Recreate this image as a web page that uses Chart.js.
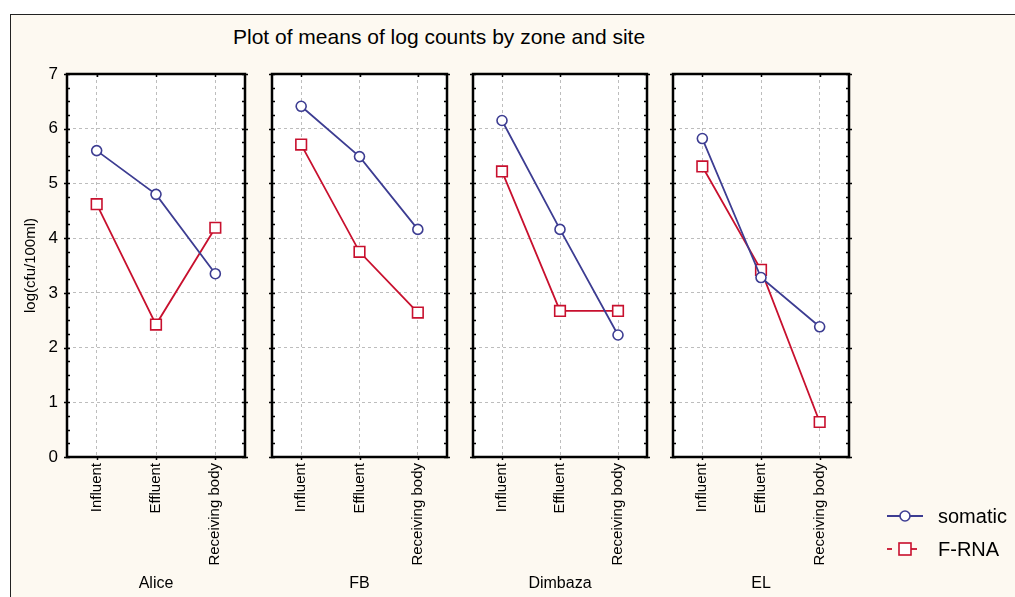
<!DOCTYPE html>
<html lang="en">
<head>
<meta charset="UTF-8">
<title>Plot of means of log counts by zone and site</title>
<script src="https://cdn.jsdelivr.net/npm/chart.js"></script>
<style>
    body {
        margin: 0;
        width: 1015px;
        height: 597px;
        background: #ffffff;
        position: relative;
        overflow: hidden;
        font-family: Arial, 'Liberation Sans', sans-serif;
        color: #000;
    }
    .frame {
        position: absolute;
        left: 10px;
        top: 14px;
        width: 1020px;
        height: 600px;
        border: 1px solid #222;
        background: #fdf9f1;
    }
    .panel {
        position: absolute;
        left: 0;
        top: 0;
        width: 1015px;
        height: 597px;
        pointer-events: none;
    }
    #title {
        position: absolute;
        left: 233px;
        top: 25px;
        font-size: 21px;
        line-height: 23px;
        white-space: nowrap;
    }
    .leg {
        position: absolute;
        left: 886px;
        height: 22px;
        display: flex;
        align-items: center;
        font-size: 20px;
    }
    .leg svg { margin-right: 14px; }
</style>
</head>
<body>
<div class="frame"></div>
<div id="title">Plot of means of log counts by zone and site</div>
<div class="panel"><canvas id="c0"></canvas></div>
<div class="panel"><canvas id="c1"></canvas></div>
<div class="panel"><canvas id="c2"></canvas></div>
<div class="panel"><canvas id="c3"></canvas></div>
<div id="legend"></div>

<script>
    const zones = ['Influent', 'Effluent', 'Receiving body'];
    const sites = ['Alice', 'FB', 'Dimbaza', 'EL'];
    const yTicks = [0, 1, 2, 3, 4, 5, 6, 7];

    // one row per site, values per zone
    const somatic = [
        [5.60, 4.80, 3.35],
        [6.41, 5.49, 4.16],
        [6.15, 4.16, 2.23],
        [5.82, 3.28, 2.38]
    ];
    const frna = [
        [4.62, 2.42, 4.19],
        [5.71, 3.75, 2.64],
        [5.22, 2.67, 2.67],
        [5.31, 3.42, 0.64]
    ];

    const BLUE = '#3d3d92';
    const RED = '#c8102e';
    const GRID = '#bdbdbd';

    // panel edges on the page
    const panelLeft = [67, 272, 473, 673];
    const panelRight = [245, 447, 647, 849];
    const Y_W = 60;

    const framePlugin = {
        id: 'frame',
        beforeDraw(chart) {
            const a = chart.chartArea, c = chart.ctx;
            c.save();
            c.fillStyle = '#ffffff';
            c.fillRect(a.left, a.top, a.right - a.left, a.bottom - a.top);
            c.restore();
        },
        afterDraw(chart) {
            const a = chart.chartArea, c = chart.ctx;
            const y = chart.scales.y, x = chart.scales.x;
            c.save();
            c.strokeStyle = '#000';
            c.lineWidth = 1.5;
            c.beginPath();
            for (let v = 0; v <= 7; v += 0.25) {
                const py = Math.round(y.getPixelForValue(v)) + 0.5;
                const out = Number.isInteger(v) ? 3 : 0;
                c.moveTo(a.left - out, py); c.lineTo(a.left + 3, py);
                c.moveTo(a.right - 3, py); c.lineTo(a.right + out, py);
            }
            zones.forEach((z, k) => {
                const px = Math.round(x.getPixelForValue(k)) + 0.5;
                c.moveTo(px, a.top); c.lineTo(px, a.top + 3);
                c.moveTo(px, a.bottom); c.lineTo(px, a.bottom + 3);
            });
            c.stroke();
            c.lineWidth = 2.5;
            c.strokeRect(a.left, a.top, a.right - a.left, a.bottom - a.top);
            c.restore();
        }
    };

    sites.forEach((site, i) => {
        const first = i === 0;
        new Chart(document.getElementById('c' + i), {
            type: 'line',
            data: {
                labels: zones,
                datasets: [
                    {
                        label: 'somatic',
                        data: somatic[i],
                        borderColor: BLUE,
                        backgroundColor: '#ffffff',
                        borderWidth: 1.8,
                        pointStyle: 'circle',
                        pointRadius: 5,
                        pointBorderWidth: 1.6,
                        pointBackgroundColor: '#ffffff',
                        tension: 0
                    },
                    {
                        label: 'F-RNA',
                        data: frna[i],
                        borderColor: RED,
                        backgroundColor: '#ffffff',
                        borderWidth: 1.8,
                        pointStyle: 'rect',
                        pointRadius: 7.5,
                        pointBorderWidth: 1.6,
                        pointBackgroundColor: '#ffffff',
                        tension: 0
                    }
                ]
            },
            options: {
                responsive: true,
                maintainAspectRatio: false,
                animation: false,
                layout: {
                    padding: {
                        left: first ? panelLeft[0] - Y_W : panelLeft[i],
                        right: 1015 - panelRight[i],
                        top: 74,
                        bottom: 0
                    }
                },
                plugins: {
                    legend: { display: false },
                    tooltip: { enabled: false }
                },
                scales: {
                    x: {
                        type: 'category',
                        offset: true,
                        afterFit: s => { s.height = 140; },
                        grid: { offset: false, color: GRID, lineWidth: 1, drawTicks: false },
                        border: { display: false, dash: [3, 3] },
                        ticks: {
                            color: '#000',
                            font: { family: 'Arial', size: 15 },
                            maxRotation: 90,
                            minRotation: 90,
                            padding: 6
                        },
                        title: {
                            display: true,
                            text: site,
                            color: '#000',
                            font: { family: 'Arial', size: 16 },
                            padding: { top: 0, bottom: 4 }
                        }
                    },
                    y: {
                        min: 0,
                        max: 7,
                        afterFit: s => { s.width = first ? Y_W : 0; },
                        afterBuildTicks: s => { s.ticks = yTicks.map(v => ({ value: v })); },
                        grid: { color: GRID, lineWidth: 1, drawTicks: false },
                        border: { display: false, dash: [3, 3] },
                        ticks: {
                            display: first,
                            color: '#000',
                            font: { family: 'Arial', size: 17 },
                            padding: 9
                        },
                        title: {
                            display: first,
                            text: 'log(cfu/100ml)',
                            color: '#000',
                            font: { family: 'Arial', size: 15 },
                            padding: { top: 15, bottom: 0 }
                        }
                    }
                }
            },
            plugins: [framePlugin]
        });
    });

    // legend
    const legend = document.getElementById('legend');
    const legItems = [
        { name: 'somatic', color: BLUE, top: 505, marker: '<circle cx="19" cy="11" r="5" fill="#fff" stroke-width="1.6"/>', line: '<line x1="1" y1="11" x2="37" y2="11" stroke-width="1.8"/>' },
        { name: 'F-RNA', color: RED, top: 538, marker: '<rect x="13" y="5" width="12" height="12" fill="#fff" stroke-width="1.6"/>', line: '<line x1="1" y1="11" x2="6" y2="11" stroke-width="1.8"/><line x1="25" y1="11" x2="31" y2="11" stroke-width="1.8"/>' }
    ];
    legItems.forEach(it => {
        const d = document.createElement('div');
        d.className = 'leg';
        d.style.top = it.top + 'px';
        d.innerHTML = '<svg width="38" height="22" stroke="' + it.color + '">' + it.line + it.marker + '</svg><span>' + it.name + '</span>';
        legend.appendChild(d);
    });
</script>
</body>
</html>
